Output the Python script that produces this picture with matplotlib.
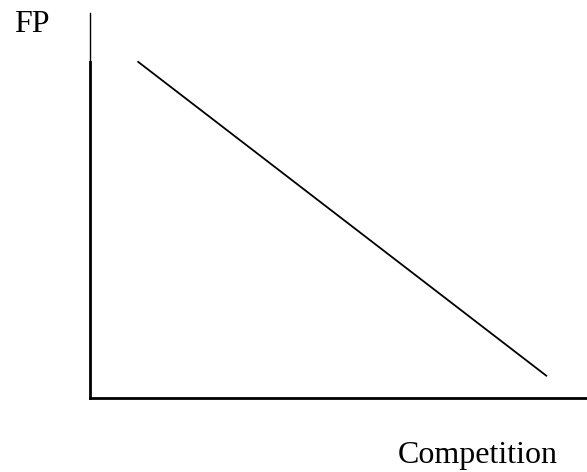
import matplotlib.pyplot as plt

# schematic: FP falls as competition rises
competition = [0.97, 9.18]
fp = [8.73, 0.58]

W, H = 587, 472
fig = plt.figure(figsize=(W / 100, H / 100), dpi=100)
left, right, top, bottom = 90, 587, 13, 398
ax = fig.add_axes([left / W, (H - bottom) / H, (right - left) / W, (bottom - top) / H])
ax.set_xlim(0, 10)
ax.set_ylim(0, 10)

ax.plot(competition, fp, color='black', linewidth=1.3)

for s in ['top', 'right']:
    ax.spines[s].set_visible(False)
ax.spines['left'].set_linewidth(2)
ax.spines['bottom'].set_linewidth(2)
ax.spines['left'].set_bounds(0, fp[0])
ax.plot([0.01, 0.01], [fp[0], 10], color='black', linewidth=1, clip_on=False)
ax.set_xticks([])
ax.set_yticks([])

fig.text(14 / W, 1 - 32 / H, 'FP', family='Liberation Serif', fontsize=23,
         ha='left', va='baseline')
fig.text(398 / W, 1 - 463 / H, 'Competition', family='Liberation Serif', fontsize=23,
         ha='left', va='baseline')

fig.savefig('out.png', dpi=100)
